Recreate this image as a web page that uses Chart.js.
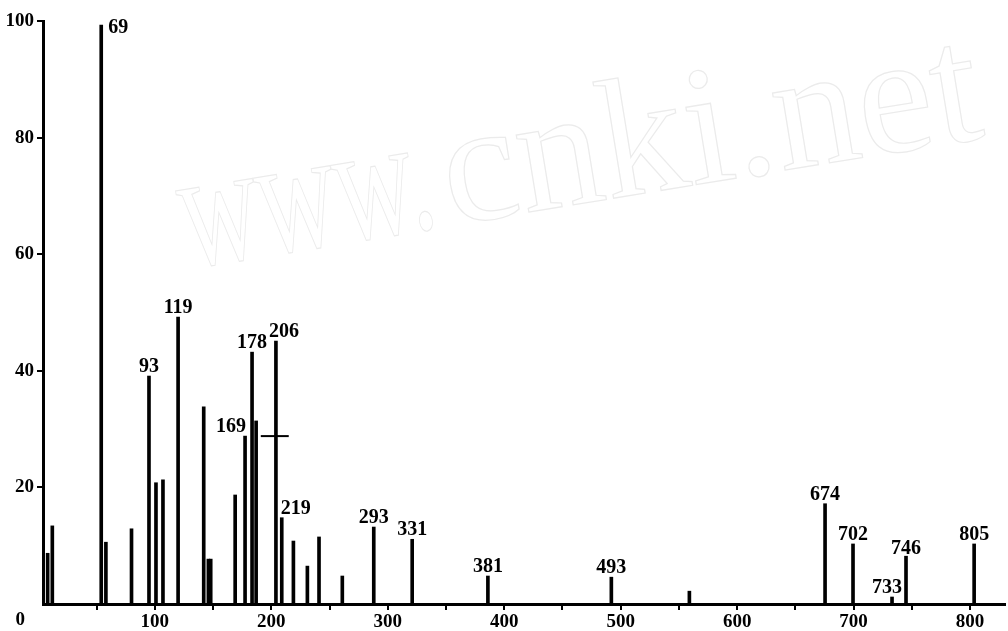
<!DOCTYPE html>
<html>
<head>
<meta charset="utf-8">
<script src="https://cdn.jsdelivr.net/npm/chart.js@4"></script>
<style>
  html, body { margin: 0; padding: 0; background: #fff; }
  #wrap { width: 1008px; height: 631px; position: relative; }
</style>
</head>
<body>
<div id="wrap"><canvas id="spectrumChart"></canvas></div>
<script>
  // --- Spectrum data ---
  const peakMz = [8, 12, 54, 58, 80, 95, 101, 107, 120, 142, 146, 148, 169, 177.5, 183.5, 187,
    204, 209, 219, 231, 241, 261, 288, 321, 386, 492, 559, 675.5, 699.5, 733, 745, 803.5];
  const peakIntensity = [8.7, 13.4, 99.3, 10.6, 12.9, 39.1, 20.8, 21.3, 49.2, 33.8, 7.7, 7.7, 18.7, 28.8, 43.2, 31.4,
    45.1, 14.8, 10.8, 6.5, 11.5, 4.8, 13.2, 11.1, 4.8, 4.6, 2.2, 17.2, 10.3, 1.2, 8.2, 10.3];
  const peakLabels = ["", "", "69", "", "", "93", "", "", "119", "", "", "", "", "169", "178", "",
    "206", "219", "", "", "", "", "293", "331", "381", "493", "", "674", "702", "733", "746", "805"];

  // the small cross mark drawn over the 206 peak
  const crossMz = [191, 215];
  const crossLevel = 28.8;

  const xTickValues = [50, 100, 150, 200, 250, 300, 350, 400, 450, 500, 550, 600, 650, 700, 750, 800];
  const yTickValues = [20, 40, 60, 80, 100];

  const FONT = '"Liberation Serif", "DejaVu Serif", serif';

  // label nudges for the peaks whose text is not straight above the line
  const labelOffsets = {
    "69": [17, 12],
    "169": [-14, 0],
    "206": [8, 0],
    "219": [14, 0],
    "733": [-5, 0],
    "746": [0, 2],
  };

  const peakLabelPlugin = {
    id: "peakLabels",
    beforeDatasetsDraw(chart) {
      // faint cnki watermark behind the peaks
      const ctx = chart.ctx;
      ctx.save();
      ctx.translate(188, 268);
      ctx.rotate(-9.3 * Math.PI / 180);
      ctx.font = "170px " + FONT;
      ctx.strokeStyle = "#ebebeb";
      ctx.lineWidth = 1.2;
      ctx.textBaseline = "alphabetic";
      ctx.save();
      ctx.scale(0.64, 1);
      ctx.strokeText("www.", 0, 0);
      ctx.restore();
      ctx.strokeText("cnki.net", 266, 0);
      ctx.restore();
    },
    afterDatasetsDraw(chart) {
      const ctx = chart.ctx;
      const meta = chart.getDatasetMeta(0);
      ctx.save();
      ctx.fillStyle = "#000";
      ctx.font = "bold 20px " + FONT;
      ctx.textAlign = "center";
      ctx.textBaseline = "alphabetic";
      meta.data.forEach((bar, i) => {
        const label = peakLabels[i];
        if (!label) return;
        const off = labelOffsets[label] || [0, 0];
        ctx.fillText(label, bar.x + off[0], bar.y - 4 + off[1]);
      });
      // origin label sits left of the axis
      const xScale = chart.scales.x;
      ctx.font = "bold 19px " + FONT;
      ctx.textBaseline = "top";
      ctx.fillText("0", xScale.getPixelForValue(0) - 18, xScale.top + 7);
      ctx.restore();
    },
  };

  const spectrumCanvas = document.getElementById("spectrumChart");
  new Chart(spectrumCanvas, {
    type: "bar",
    data: {
      datasets: [
        {
          type: "bar",
          data: peakMz.map((mz, i) => ({ x: mz, y: peakIntensity[i] })),
          backgroundColor: "#000",
          borderWidth: 0,
          barThickness: 3,
        },
        {
          type: "line",
          data: crossMz.map((mz) => ({ x: mz, y: crossLevel })),
          borderColor: "#000",
          borderWidth: 2,
          pointRadius: 0,
        },
      ],
    },
    options: {
      responsive: true,
      maintainAspectRatio: false,
      animation: false,
      layout: { padding: { top: 21, right: 3, left: 0, bottom: 0 } },
      plugins: {
        legend: { display: false },
        tooltip: { enabled: false },
      },
      scales: {
        x: {
          type: "linear",
          offset: false,
          min: 4,
          max: 830,
          afterBuildTicks: (scale) => {
            scale.ticks = xTickValues.map((v) => ({ value: v }));
          },
          afterFit: (scale) => {
            scale.height = 27;
          },
          ticks: {
            color: "#000",
            font: { family: FONT, size: 19, weight: "bold" },
            padding: 1,
            maxRotation: 0,
            autoSkip: false,
            callback: (v) => (v % 100 === 0 ? String(v) : ""),
          },
          grid: {
            offset: false,
            drawOnChartArea: false,
            color: "#000",
            lineWidth: 2,
            tickLength: 6,
          },
          border: { color: "#000", width: 3 },
        },
        y: {
          min: 0,
          max: 100,
          afterBuildTicks: (scale) => {
            scale.ticks = yTickValues.map((v) => ({ value: v }));
          },
          afterFit: (scale) => {
            scale.width = 43;
          },
          ticks: {
            color: "#000",
            font: { family: FONT, size: 19, weight: "bold" },
            padding: 3,
          },
          grid: {
            drawOnChartArea: false,
            color: "#000",
            lineWidth: 2,
            tickLength: 6,
          },
          border: { color: "#000", width: 3 },
        },
      },
    },
    plugins: [peakLabelPlugin],
  });
</script>
</body>
</html>
